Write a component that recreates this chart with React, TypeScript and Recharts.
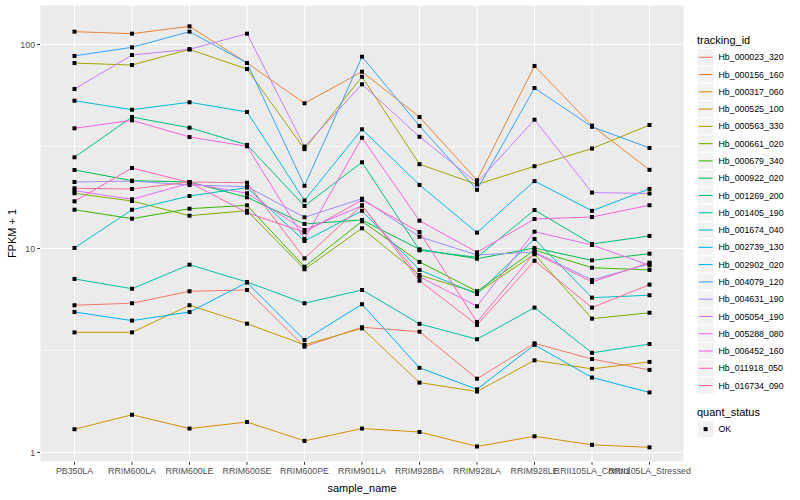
import React from 'react';
import { LineChart, Line, XAxis, YAxis, CartesianGrid, ReferenceLine } from 'recharts';

const samples = [
  'PB350LA', 'RRIM600LA', 'RRIM600LE', 'RRIM600SE', 'RRIM600PE', 'RRIM901LA',
  'RRIM928BA', 'RRIM928LA', 'RRIM928LE', 'RRII105LA_Control', 'RRII105LA_Stressed',
];

// FPKM + 1 per sample
const hb000023_320 = [5.27, 5.39, 6.17, 6.26, 3.3, 4.11, 3.91, 2.3, 3.43, 2.87, 2.54];
const hb000156_160 = [115.6, 113, 122.8, 81.2, 51.5, 73.6, 44.1, 21.6, 78.5, 40.0, 24.3];
const hb000317_060 = [1.3, 1.53, 1.31, 1.41, 1.14, 1.31, 1.26, 1.07, 1.2, 1.09, 1.06];
const hb000525_100 = [3.88, 3.88, 5.27, 4.28, 3.37, 4.06, 2.2, 1.99, 2.83, 2.57, 2.78];
const hb000563_330 = [81.1, 79.3, 94.7, 75.8, 30.7, 69.5, 25.9, 20.6, 25.3, 30.9, 40.3];
const hb000661_020 = [18.65, 17.09, 14.48, 15.32, 7.91, 12.56, 7.41, 6.07, 9.37, 4.53, 4.84];
const hb000679_340 = [15.49, 14.0, 15.67, 16.28, 8.14, 13.59, 8.59, 6.17, 9.83, 8.05, 7.85];
const hb000922_020 = [24.26, 21.5, 21.18, 17.82, 13.19, 13.8, 9.91, 8.91, 10.06, 8.75, 9.43];
const hb001269_200 = [28.0, 44.1, 39.1, 32.2, 16.16, 26.46, 9.8, 9.05, 15.44, 10.52, 11.52];
const hb001405_190 = [7.09, 6.35, 8.33, 6.85, 5.39, 6.26, 4.27, 3.59, 5.13, 3.08, 3.4];
const hb001674_040 = [10.06, 15.49, 18.09, 19.87, 10.88, 15.3, 7.85, 5.98, 11.13, 5.74, 5.9];
const hb002739_130 = [53.0, 47.9, 52.1, 46.7, 17.2, 38.4, 20.5, 11.96, 21.4, 15.3, 19.6];
const hb002902_020 = [4.88, 4.43, 4.88, 6.81, 3.56, 5.33, 2.6, 2.04, 3.37, 2.33, 1.97];
const hb004079_120 = [87.9, 96.9, 115.6, 81.2, 20.3, 87.1, 39.9, 19.4, 61.2, 39.5, 31.1];
const hb004631_190 = [21.18, 21.4, 20.48, 20.09, 14.22, 17.54, 11.42, 9.29, 9.61, 7.01, 8.4];
const hb005054_190 = [60.5, 88.8, 94.7, 113, 31.6, 63.8, 35.3, 21.0, 42.8, 18.8, 18.6];
const hb005288_080 = [19.2, 17.42, 20.87, 18.65, 12.32, 16.21, 7.27, 5.21, 12.09, 10.4, 8.27];
const hb006452_160 = [38.83, 42.5, 35.2, 31.7, 11.13, 34.9, 13.69, 9.58, 13.95, 14.27, 16.3];
const hb011918_050 = [17.03, 24.81, 21.06, 14.98, 12.01, 17.29, 12.04, 4.36, 9.5, 6.85, 8.52];
const hb016734_090 = [19.73, 19.57, 21.18, 21.01, 8.95, 16.3, 6.95, 4.22, 8.71, 5.13, 6.65];

const trackingIds = [
  'Hb_000023_320', 'Hb_000156_160', 'Hb_000317_060', 'Hb_000525_100', 'Hb_000563_330',
  'Hb_000661_020', 'Hb_000679_340', 'Hb_000922_020', 'Hb_001269_200', 'Hb_001405_190',
  'Hb_001674_040', 'Hb_002739_130', 'Hb_002902_020', 'Hb_004079_120', 'Hb_004631_190',
  'Hb_005054_190', 'Hb_005288_080', 'Hb_006452_160', 'Hb_011918_050', 'Hb_016734_090',
];

const seriesValues = [
  hb000023_320, hb000156_160, hb000317_060, hb000525_100, hb000563_330,
  hb000661_020, hb000679_340, hb000922_020, hb001269_200, hb001405_190,
  hb001674_040, hb002739_130, hb002902_020, hb004079_120, hb004631_190,
  hb005054_190, hb005288_080, hb006452_160, hb011918_050, hb016734_090,
];

const yTicks = [1, 10, 100];
const yMinorTicks = [3.1623, 31.623];
const quantStatus = ['OK'];

// ggplot default hue palette for 20 levels
const palette = [
  '#F8766D', '#EA8331', '#D89000', '#C09B00', '#A3A500', '#7CAE00', '#39B600',
  '#00BB4E', '#00BF7D', '#00C1A3', '#00BFC4', '#00BAE0', '#00B0F6', '#35A2FF',
  '#9590FF', '#C77CFF', '#E76BF3', '#FA62DB', '#FF62BC', '#FF6C91',
];

const chartData = samples.map((sample, i) => {
  const row: Record<string, any> = { sample };
  trackingIds.forEach((id, k) => {
    row[id] = seriesValues[k][i];
  });
  return row;
});

const FONT = '"Liberation Sans", Arial, Helvetica, sans-serif';

const SquareDot = (props: any) => {
  const { cx, cy, index, dataKey } = props;
  if (cx == null || cy == null) return null;
  return <rect key={`${dataKey}-${index}`} x={cx - 2} y={cy - 2} width={4} height={4} fill="#000" />;
};

export default function App() {
  const keySize = 17.28;
  const legendTop = 48.6;

  return (
    <div style={{ position: 'absolute', left: 0, top: 0, width: 800, height: 500, background: '#fff', fontFamily: FONT }}>
      <LineChart
        width={800}
        height={500}
        data={chartData}
        margin={{ top: 5, right: 116, bottom: 0, left: 10 }}
        style={{ fontFamily: FONT }}
      >
        <CartesianGrid fill="#EBEBEB" stroke="#FFFFFF" strokeWidth={1.07} />
        {yMinorTicks.map((v) => (
          <ReferenceLine key={v} y={v} stroke="#FFFFFF" strokeWidth={0.55} />
        ))}
        <XAxis
          dataKey="sample"
          interval={0}
          height={38}
          padding={{ left: 34.5, right: 34.5 }}
          axisLine={false}
          tickSize={2.75}
          tickMargin={3}
          tickLine={{ stroke: '#333333' }}
          tick={{ fontSize: 8.8, fill: '#4D4D4D' }}
          label={{ value: 'sample_name', position: 'insideBottom', offset: 8, fill: '#000', fontSize: 11 }}
        />
        <YAxis
          type="number"
          scale="log"
          domain={[0.898, 156.2]}
          allowDataOverflow
          ticks={yTicks}
          width={30}
          axisLine={false}
          tickSize={2.75}
          tickMargin={2.2}
          tickLine={{ stroke: '#333333' }}
          tick={{ fontSize: 8.8, fill: '#4D4D4D' }}
        />
        {trackingIds.map((id, k) => (
          <Line
            key={id}
            type="linear"
            dataKey={id}
            stroke={palette[k]}
            strokeWidth={1}
            dot={SquareDot}
            activeDot={false}
            isAnimationActive={false}
          />
        ))}
      </LineChart>

      <svg
        width={800}
        height={500}
        style={{ position: 'absolute', left: 0, top: 0, pointerEvents: 'none', fontFamily: FONT }}
      >
        <text x={16} y={233.5} transform="rotate(-90 16 233.5)" textAnchor="middle" fontSize={11} fill="#000">
          FPKM + 1
        </text>

        <text x={697} y={44} fontSize={11} fill="#000">tracking_id</text>
        {trackingIds.map((id, k) => {
          const y = legendTop + k * keySize;
          const cy = y + keySize / 2;
          return (
            <g key={id}>
              <rect x={697} y={y} width={keySize} height={keySize} fill="#F2F2F2" stroke="#FFFFFF" />
              <line x1={698.7} x2={712.6} y1={cy} y2={cy} stroke={palette[k]} strokeWidth={1.07} />
              <text x={718.5} y={cy + 3.1} fontSize={8.8} fill="#000">{id}</text>
            </g>
          );
        })}

        <text x={697} y={416} fontSize={11} fill="#000">quant_status</text>
        {quantStatus.map((s, k) => {
          const y = 420.5 + k * keySize;
          const cy = y + keySize / 2;
          return (
            <g key={s}>
              <rect x={697} y={y} width={keySize} height={keySize} fill="#F2F2F2" stroke="#FFFFFF" />
              <rect x={697 + keySize / 2 - 2} y={cy - 2} width={4} height={4} fill="#000" />
              <text x={718.5} y={cy + 3.1} fontSize={8.8} fill="#000">{s}</text>
            </g>
          );
        })}
      </svg>
    </div>
  );
}
